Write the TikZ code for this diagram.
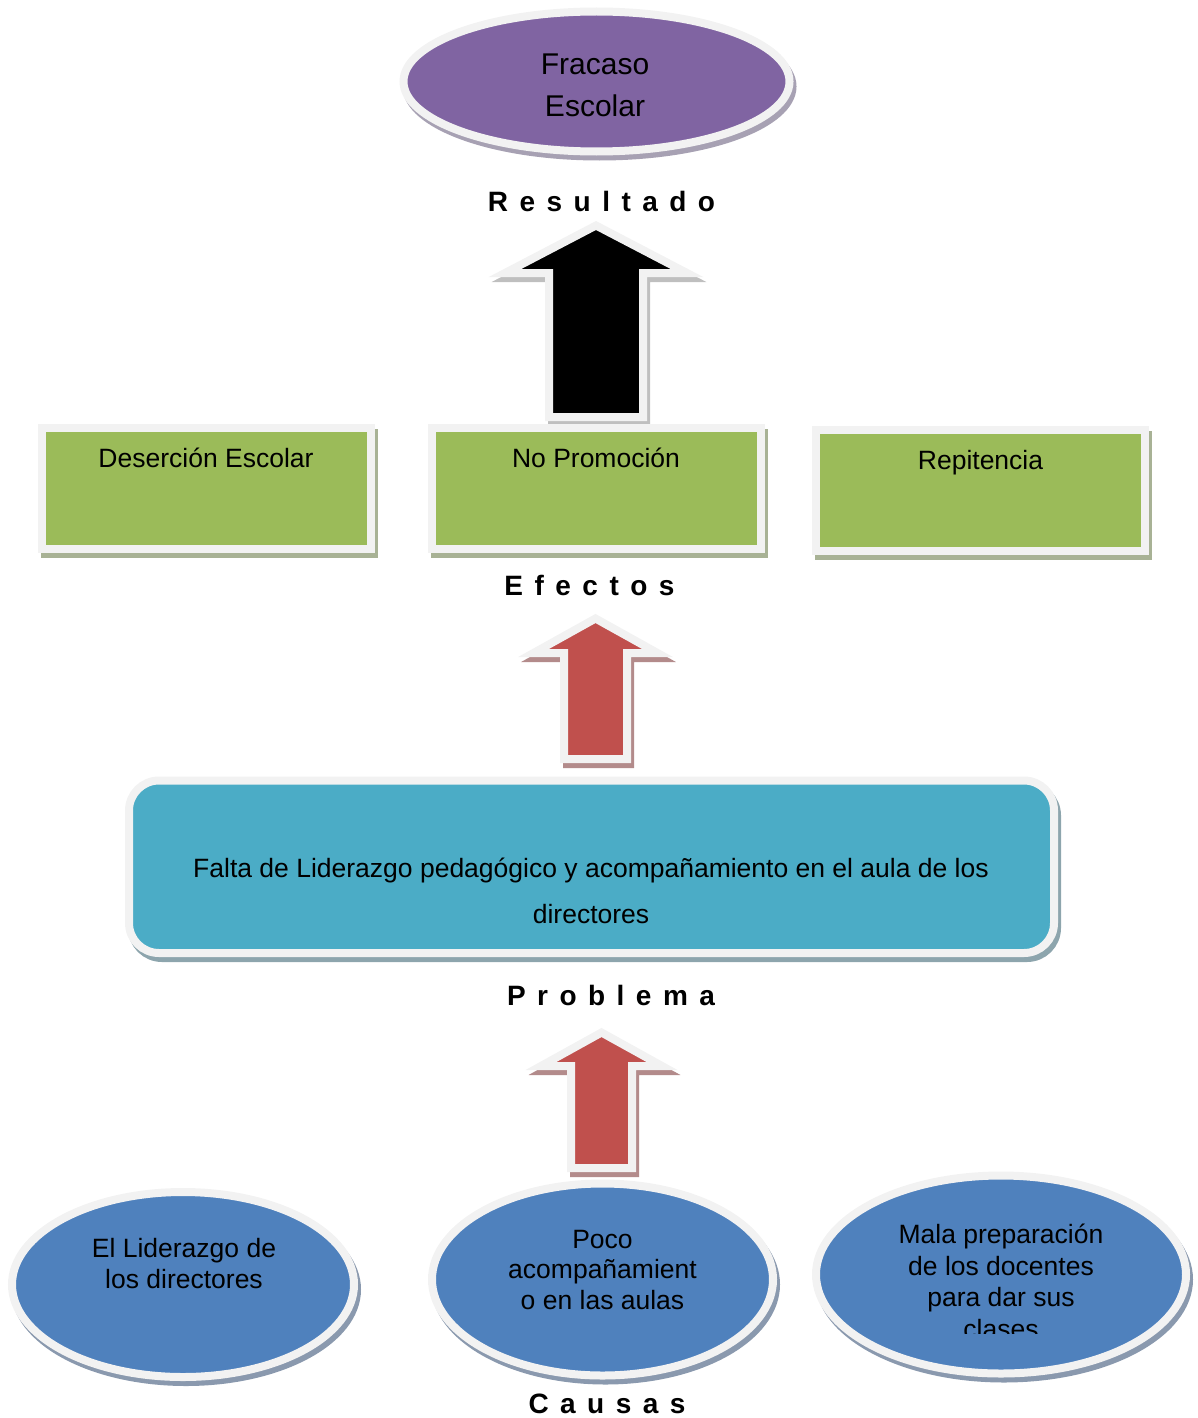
\documentclass[tikz,border=0pt]{standalone}
\usepackage{fontspec}
\setmainfont{Liberation Sans}
\usetikzlibrary{shapes.geometric,calc,positioning}
\definecolor{rim}{HTML}{F2F2F2}
\definecolor{lila}{HTML}{8064A2}
\definecolor{lilashd}{HTML}{A7A1B3}
\definecolor{verde}{HTML}{9BBB59}
\definecolor{verdeshd}{HTML}{A8B295}
\definecolor{turq}{HTML}{4BACC6}
\definecolor{turqshd}{HTML}{8DA5AD}
\definecolor{azul}{HTML}{4F81BD}
\definecolor{azulshd}{HTML}{8A99AE}
\definecolor{rojo}{HTML}{C0504D}
\definecolor{rojoshd}{HTML}{B38B8B}
\definecolor{negroshd}{HTML}{BFBFBF}
\tikzset{%
  shd/.style={preaction={draw=#1,fill=#1,line width=8pt,transform canvas={shift={(3pt,-5pt)}}}},
  ov/.style 2 args={ellipse,draw=rim,line width=8pt,fill=#1,shd=#2,inner sep=0pt},
  gbox/.style={rectangle,draw=rim,line width=8pt,fill=verde,shd=verdeshd,
    minimum width=329pt,minimum height=121pt,inner sep=0pt},
  arr/.style 2 args={draw=rim,line width=8pt,fill=#1,shd=#2},
  txt/.style={anchor=north,inner sep=0pt,align=center,font=\fontsize{26.5}{31}\selectfont},
  tag/.style={anchor=base,inner sep=0pt,font=\fontsize{28}{32}\selectfont\bfseries\addfontfeature{LetterSpace=41}}
}
% block arrow pointing up: style, base, tip, shaft half width, head half width, head length
\newcommand{\blockarr}[6]{%
  \path[#1] ($(#2)+(-#4,0)$) -- ($(#3)+(-#4,#6)$) -- ($(#3)+(-#5,#6)$) -- (#3)
    -- ($(#3)+(#5,#6)$) -- ($(#3)+(#4,#6)$) -- ($(#2)+(#4,0)$) -- cycle;}

\begin{document}
\begin{tikzpicture}[x=1pt,y=-1pt]
  \useasboundingbox (0,0) rectangle (1197,1418);

  % resultado
  \node[ov={lila}{lilashd},minimum width=386pt,minimum height=140pt] (fracaso) at (596.5,81.5) {};
  \node[txt,font=\fontsize{30}{42}\selectfont] (fracaso-txt) at (595,53.5) {Fracaso\\Escolar};
  \node[tag] (lbl-res) at (601.5,211) {Resultado};

  \coordinate (b1) at (596,417);
  \coordinate (t1) at (596,225.5);
  \blockarr{arr={black}{negroshd}}{b1}{t1}{47}{91}{47.5}

  % efectos
  \node[gbox] (desercion) at (206.5,488.5) {};
  \node[gbox] (nopromo) at (596.5,488.5) {};
  \node[gbox] (repit) at (980.5,490.5) {};
  \node[txt] (desercion-txt) at (206,448) {Deserción Escolar};
  \node[txt] (nopromo-txt) at (596,448) {No Promoción};
  \node[txt] (repit-txt) at (980.5,450) {Repitencia};
  \node[tag] (lbl-ef) at (589.5,595) {Efectos};

  \coordinate (b2) at (595.5,759);
  \coordinate (t2) at (595.5,618.5);
  \blockarr{arr={rojo}{rojoshd}}{b2}{t2}{31.5}{62}{34.5}

  % problema
  \node[rectangle,rounded corners=30pt,draw=rim,line width=8pt,fill=turq,shd=turqshd,
    minimum width=925pt,minimum height=172.5pt,inner sep=0pt] (falta) at (591.5,866.75) {};
  \node[txt,font=\fontsize{26.5}{46}\selectfont] (falta-txt) at (591,858)
    {Falta de Liderazgo pedagógico y acompañamiento en el aula de los\\directores};
  \node[tag] (lbl-prob) at (611,1005) {Problema};

  \coordinate (b3) at (601.5,1168);
  \coordinate (t3) at (601.5,1032.5);
  \blockarr{arr={rojo}{rojoshd}}{b3}{t3}{30.5}{60.5}{33.5}

  % causas
  \node[ov={azul}{azulshd},minimum width=342pt,minimum height=185pt] (lider) at (183,1284.5) {};
  \node[ov={azul}{azulshd},minimum width=341pt,minimum height=192pt] (poco) at (602.5,1279.5) {};
  \node[ov={azul}{azulshd},minimum width=370pt,minimum height=198pt] (mala) at (1001,1274.5) {};
  \node[txt] (lider-txt) at (184,1238) {El Liderazgo de\\los directores};
  \node[txt,font=\fontsize{26.5}{30.5}\selectfont] (poco-txt) at (602.5,1230) {Poco\\acompañamient\\o en las aulas};
  \begin{scope}
    \clip (800,1150) rectangle (1197,1333);
    \node[txt,font=\fontsize{26.5}{31.5}\selectfont] (mala-txt) at (1001,1224)
      {Mala preparación\\de los docentes\\para dar sus\\clases};
  \end{scope}
  \node[tag] (lbl-causas) at (607,1413) {Causas};
\end{tikzpicture}
\end{document}
